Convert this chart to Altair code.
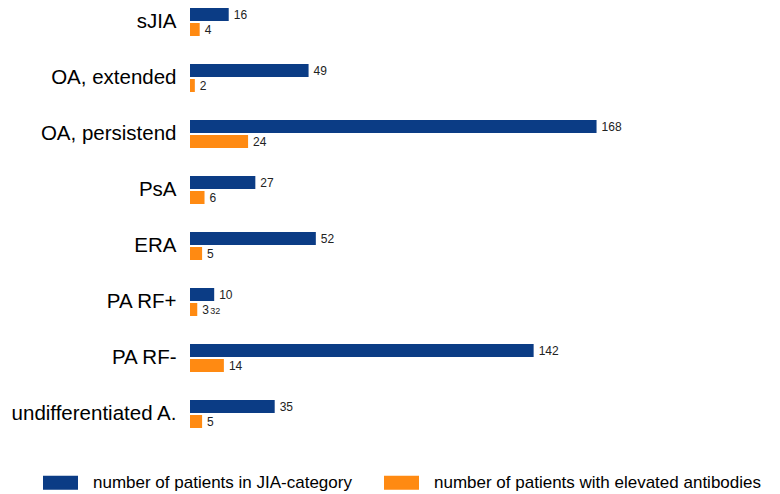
import altair as alt
import pandas as pd

categories = ["sJIA", "OA, extended", "OA, persistend", "PsA", "ERA",
              "PA RF+", "PA RF-", "undifferentiated A."]
total_patients = [16, 49, 168, 27, 52, 10, 142, 35]
elevated_antibodies = [4, 2, 24, 6, 5, 3, 14, 5]
series_names = ["number of patients in JIA-category",
                "number of patients with elevated antibodies"]
series_colors = ["#0b3c85", "#ff8a12"]
# stray small label printed next to the PA RF+ orange bar in the original
extra_category = ["PA RF+"]
extra_value = [3]
extra_text = ["32"]

rows = []
for c, t, e in zip(categories, total_patients, elevated_antibodies):
    rows.append({"category": c, "series": series_names[0], "value": t, "label": str(t)})
    rows.append({"category": c, "series": series_names[1], "value": e, "label": str(e)})
df = pd.DataFrame(rows)

df_extra = pd.DataFrame({
    "category": extra_category,
    "series": [series_names[1]] * len(extra_category),
    "value": extra_value,
    "label": extra_text,
})

FONT = "Liberation Sans"

y = alt.Y(
    "category:N", sort=categories,
    scale=alt.Scale(range=[-14, 434], paddingInner=0, paddingOuter=0),
    axis=alt.Axis(title=None, domain=False, ticks=False, labelFontSize=20.5,
                  labelFont=FONT, labelColor="#000", labelPadding=14,
                  labelLimit=300, grid=False),
)
yoff = alt.YOffset("series:N", sort=series_names,
                   scale=alt.Scale(paddingInner=2 / 15, paddingOuter=14 / 15))
x = alt.X("value:Q", scale=alt.Scale(domain=[0, 240.5], nice=False, zero=True), axis=None)
color = alt.Color(
    "series:N", sort=series_names,
    scale=alt.Scale(domain=series_names, range=series_colors),
    legend=alt.Legend(title=None, orient="none", legendX=-147, legendY=457,
                      direction="horizontal", symbolType="M-1,-0.4H1V0.4H-1Z",
                      symbolSize=1225, symbolStrokeWidth=0, labelFontSize=17,
                      labelFont=FONT, labelColor="#000", labelOffset=15,
                      columnPadding=32, labelLimit=500, symbolOpacity=1),
)

bars = alt.Chart(df).mark_bar(cornerRadius=0).encode(x=x, y=y, yOffset=yoff, color=color)
labels = alt.Chart(df).mark_text(align="left", baseline="middle", dx=5, fontSize=12,
                                 font=FONT, color="#222").encode(
    x=x, y=y, yOffset=yoff, text="label:N")
extra = alt.Chart(df_extra).mark_text(align="left", baseline="middle", dx=13, dy=1,
                                      fontSize=9, font=FONT, color="#222").encode(
    x=x, y=y, yOffset=yoff, text="label:N")

chart = alt.layer(bars, labels, extra).properties(
    width=582, height=486,
    autosize=alt.AutoSizeParams(type="none"),
    padding={"left": 182, "top": 0, "right": 0, "bottom": 0},
).configure_view(stroke=None)

chart.save("out.html", embed_options={"renderer": "svg", "actions": False})
